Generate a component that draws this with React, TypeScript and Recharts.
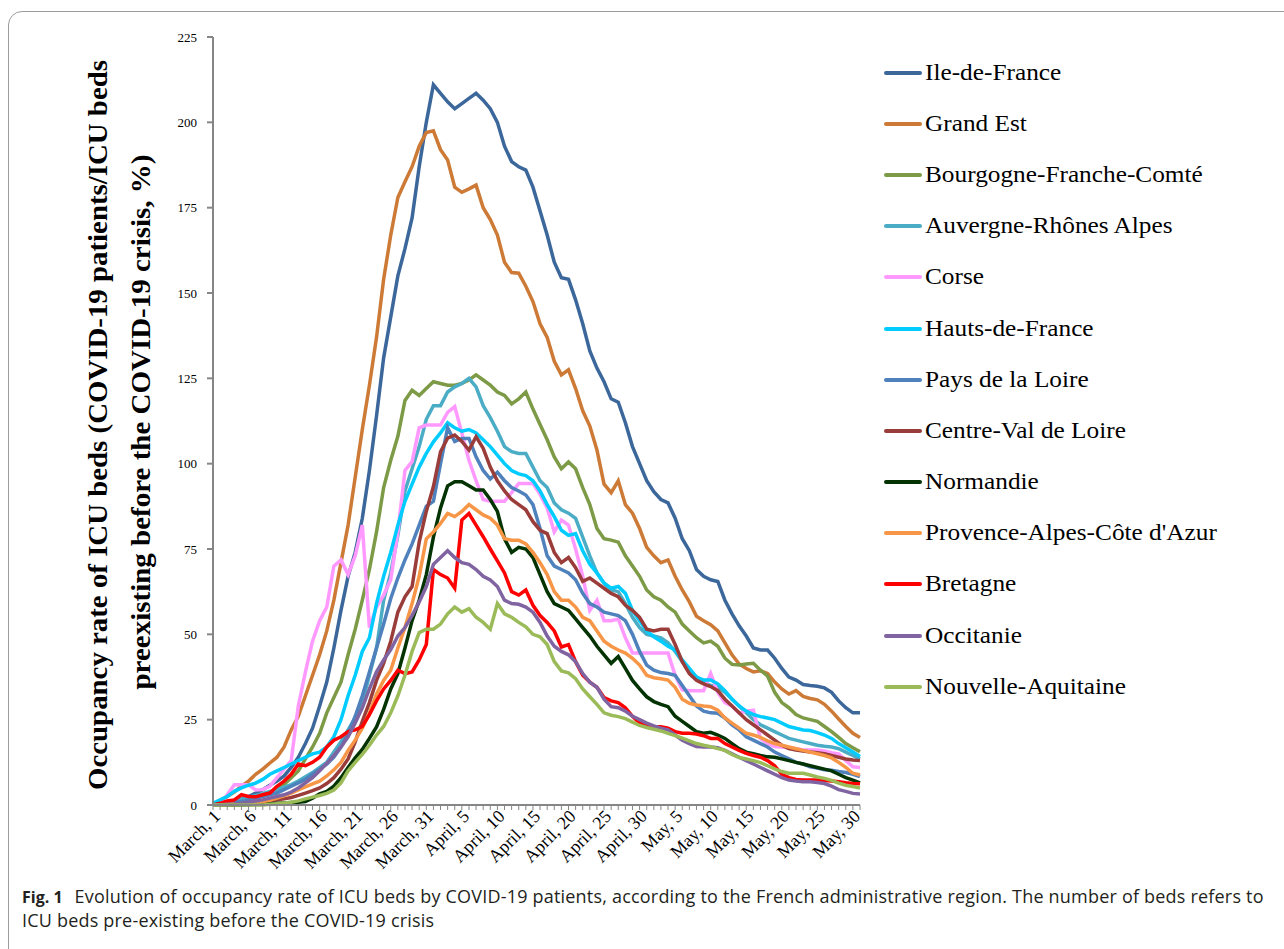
import { Legend, Line, LineChart, XAxis, YAxis } from "recharts";

const months = ["March", "April", "May"];
const monthDays = [31, 30, 31];
const dates = months.flatMap((m, k) =>
  Array.from({ length: monthDays[k] }, (_, d) => `${m}, ${d + 1}`)
);

const yTicks = [0, 25, 50, 75, 100, 125, 150, 175, 200, 225];

// occupancy rate (%) per day, March 1 -> May 31
const ileDeFrance = [
  0, 0.3, 0.8, 1.2, 1.8, 2.5, 3.5, 4.5, 5.8, 7,
  8.5, 11, 14, 18, 22.5, 29, 36, 46, 57, 67,
  74, 84, 98, 114, 131, 143, 155, 163, 172, 187,
  200, 211, 208.5, 206, 204, 205.5, 207, 208.5, 206.5, 204,
  200, 193, 188.5, 187, 186, 181, 174, 167, 159, 154.5,
  154, 148, 141, 133, 128, 124, 119, 118, 112, 105,
  100, 95, 91.8, 89.5, 88.5, 84, 78, 74.5, 69, 67,
  66, 65.5, 60, 56, 52.5, 49.5, 46, 45.4, 45.4, 43,
  40, 37.5, 36.6, 35.3, 35, 34.8, 34.3, 33, 30.5, 28.5,
  27, 27,
];
const grandEst = [
  0.3, 1.3, 2.5, 3.8, 5.5, 7, 9, 10.5, 12.3, 14,
  17, 22, 26, 32, 38, 44, 51, 60, 71, 82,
  96, 110, 123, 137, 154, 167, 178, 182.6, 187, 193,
  197, 197.5, 192, 189, 181, 179.5, 180.5, 181.6, 175, 171.5,
  167, 159, 156, 155.8, 152, 147.5, 141, 137, 130, 126,
  127.5, 122, 115.5, 111, 104, 94, 91.5, 95, 88, 85.5,
  81, 75.5, 73, 71, 71.8, 67, 63, 59.5, 55.3, 54,
  52.8, 51, 47.5, 44, 41.3, 40, 39, 39.3, 38.5, 36,
  34, 32.5, 33.5, 31.8, 31.2, 30.8, 29.5, 27.5, 25.2, 23,
  21, 19.8,
];
const bourgogne = [
  0, 0.2, 0.5, 1, 1.5, 2, 2.5, 3, 3.5, 4.5,
  6, 8, 10, 13.5, 17, 21, 27, 31.5, 36, 44,
  51.5, 60, 69, 80, 93, 101, 108, 118.5, 121.5, 120,
  122, 124, 123.5, 123, 123, 123.5, 124.5, 126, 124.5, 123,
  121, 120, 117.5, 119, 121, 116, 111.5, 107, 102, 98.5,
  100.5, 98.5, 93, 88, 81, 78, 77.6, 77, 73, 70,
  67, 63, 61, 60, 58, 56.5, 53, 51, 49, 47.5,
  48, 46.5, 43, 41.2, 41, 41.3, 41.5, 39.5, 37.8, 33,
  30, 28.5, 26.5, 25.5, 25, 24.5, 23, 21.5, 19.8, 18,
  16.8, 15.6,
];
const auvergne = [
  0, 0.4, 0.8, 1.2, 1.7, 2.2, 2.8, 3.3, 4, 4.5,
  5.2, 6, 7, 8.3, 9.5, 11, 12.5, 15.5, 18.5, 22,
  25.5, 30, 38, 46, 60, 68, 79, 92, 98.5, 105,
  113, 117, 117, 121, 122.5, 123.5, 125, 122.5, 117, 113.5,
  109.5, 105, 103.5, 103, 103, 99, 95, 93, 88.5, 86.5,
  85.5, 84, 78.5, 73, 68, 65, 63, 62.5, 59, 55,
  52, 50, 49.5, 49, 47.5, 45, 42, 39.5, 37.5, 36,
  35, 34.5, 33, 31, 29, 27, 25, 23.5, 22.5, 21.5,
  20.5, 19.5, 19, 18.5, 18, 17.5, 17.2, 17, 16.5, 15.5,
  14.5, 13.5,
];
const corse = [
  0, 0.5, 3, 5.9, 5.9, 5.9, 4.4, 4.5, 5.5, 8,
  10.5, 13, 29, 39, 48, 54, 58, 70, 71.8, 67.5,
  73, 82, 52, 58, 61.5, 66, 80, 98, 100.6, 110.5,
  111.3, 111.3, 111.3, 115, 116.7, 109, 101, 95, 89.5, 89,
  89, 89, 91.5, 94.2, 94.2, 94.2, 91, 87, 80, 83.5,
  82, 75, 67, 57, 60, 54, 54, 54.5, 49, 44.5,
  44.5, 44.5, 44.5, 44.5, 44.5, 38, 33.7, 33.5, 33.5, 33.5,
  38.5, 33, 30, 29, 26.9, 27.5, 27.8, 19.5, 18, 17.1,
  17, 16.8, 16.5, 16.1, 16.1, 16.1, 15.8, 15.3, 15, 13,
  11.2, 11,
];
const hautsDeFrance = [
  0.5, 1.5, 2.5, 4, 5, 5.8, 6.4, 7.5, 9, 10,
  11, 12, 13, 14, 15, 15.5, 17, 20, 25, 32,
  38, 45, 49, 59, 67, 74, 82, 89, 94, 99,
  103, 106.4, 109, 112, 110.5, 109.5, 110, 109, 107, 105,
  102.5, 100, 98, 97, 96.5, 95, 92, 88, 84.5, 80.5,
  79, 79.5, 74.5, 70.5, 68, 65, 63.5, 64, 62, 57,
  54, 51, 49.3, 48, 46.5, 45.4, 42.5, 40, 37.5, 36.6,
  36.6, 35.5, 33.5, 31, 29, 27.5, 26.5, 25.9, 25.5, 25,
  24, 23, 22.5, 22, 21.8, 21.2, 20.5, 19.5, 18, 16.8,
  15.5, 14.2,
];
const paysDeLaLoire = [
  0, 0.2, 0.5, 0.8, 1, 1.5, 2, 2.5, 3, 3.5,
  4.5, 5.5, 6.5, 7.5, 9, 10.5, 12, 14, 17, 21,
  26, 32, 39, 46, 53, 60.5, 66.5, 71.8, 76.5, 82,
  87.5, 89, 100, 110.5, 106.5, 107.4, 107.4, 102, 98, 95.5,
  97.5, 95, 93, 92, 90.8, 88, 81, 73, 70, 69,
  68, 66, 62, 59, 58, 56.5, 56, 55.5, 54, 50,
  45, 41, 39.5, 38.8, 38.5, 38, 35, 32, 29, 27.5,
  27, 26.9, 25.5, 23.5, 22, 20, 19, 18, 17, 15.5,
  14.5, 13.5, 12.5, 12, 11.2, 10.8, 10.3, 10.2, 9.8, 9.5,
  9, 8.3,
];
const centreVal = [
  0, 0.1, 0.2, 0.3, 0.4, 0.6, 0.8, 1, 1.2, 1.5,
  1.8, 2.2, 2.8, 3.5, 4.2, 5, 6.3, 8, 10.5, 13.5,
  18.5, 24.5, 30, 36.5, 41.5, 48, 56.5, 61, 64, 77,
  86, 93.3, 103.5, 107.5, 108.4, 106.5, 104, 107.9, 104.5, 99,
  95, 92, 89.5, 88, 86.5, 83, 80.5, 79.5, 74, 71,
  72.5, 69.5, 65.5, 66.5, 65, 63.5, 62, 61, 58.5, 57,
  55, 51.5, 51, 51.5, 51.5, 47, 42, 38.5, 36.5, 35.5,
  34.7, 33.5, 31, 29, 27, 25, 23.5, 22, 20.5, 19,
  17.5, 16.5, 16.1, 15.8, 15.5, 15.3, 15, 14.5, 14, 13.5,
  13.2, 13,
];
const normandie = [
  0, 0, 0, 0, 0, 0.1, 0.2, 0.3, 0.4, 0.5,
  0.6, 0.7, 0.8, 1, 2, 3.3, 4, 5.5, 8, 11,
  13.8, 16.3, 19.5, 22.9, 28, 34, 38.5, 46, 54, 60,
  67.5, 78.5, 87, 93.5, 94.7, 94.7, 93.5, 92.3, 92.3, 89.5,
  86, 78, 74, 75.5, 75, 72.5, 67.5, 62.5, 59, 58,
  57, 54.5, 52, 49.5, 46.5, 44, 41.5, 43.5, 40, 36.5,
  34, 31.7, 30.3, 29.5, 28.8, 26, 24.5, 23, 21.5, 21,
  21.3, 20.5, 19.5, 18, 16.5, 15.5, 15, 14.5, 14.1, 14,
  13.5, 13, 12.5, 12, 11.5, 11, 10.5, 10, 9, 8,
  7.3, 6.5,
];
const paca = [
  0, 0.1, 0.2, 0.3, 0.4, 0.5, 0.7, 1, 1.4, 2,
  2.7, 3.5, 4.4, 5.3, 6.2, 7, 8.5, 10.3, 12.5, 16,
  19, 22.5, 27, 32.5, 36.5, 39.5, 46, 52, 59, 67,
  78, 80, 82.5, 85.4, 84.5, 86, 88, 86.5, 85, 84,
  82, 78, 77.6, 77.6, 76.5, 74, 71, 67.5, 62.5, 60,
  60, 58, 55, 54, 51, 48, 46.5, 45.4, 44.5, 43,
  41, 38, 37.3, 37, 36.6, 34.5, 31, 29.8, 29.3, 29,
  28.8, 27.8, 25.5, 24, 22.5, 21, 20.5, 19.8, 18.8, 18,
  17.5, 17, 16.5, 16, 15.5, 15, 14.5, 13.8, 12.5, 11,
  9.3, 8.8,
];
const bretagne = [
  0, 0.5, 1.2, 1.5, 3, 2.5, 2.4, 3, 3.5, 5.5,
  7, 9, 12, 11.5, 12.5, 14, 17, 19, 20, 21.5,
  22, 23, 26.5, 30.5, 34, 36.5, 39.5, 38.5, 39, 42.5,
  47, 69, 67.5, 66.5, 63.5, 83.5, 85.4, 82, 78.6, 75,
  71.5, 68, 62.5, 61.5, 63, 58.5, 55.5, 53.5, 51, 46.3,
  47, 42, 38, 36, 34.5, 31.5, 30.5, 30, 28.5, 26,
  24, 23.5, 23, 22.9, 22.5, 21.5, 21, 21, 20.8, 20.3,
  19.5, 19.5, 18, 17, 16, 15.1, 14.5, 14, 13, 11.5,
  9, 8, 7.5, 7.3, 7.3, 7.3, 7.2, 7, 6.8, 6.5,
  6.3, 6.2,
];
const occitanie = [
  0, 0.1, 0.2, 0.3, 0.5, 0.8, 1.2, 1.5, 2, 2.5,
  3, 3.8, 5, 6.5, 8, 10, 12.2, 14.5, 17, 20,
  24, 28.5, 34, 39, 42.5, 45.5, 49.5, 52, 55.5, 59.5,
  64, 70.5, 72.5, 74.5, 72.5, 71, 70.5, 69, 67, 65.9,
  64, 60, 59, 58.8, 58, 56.5, 53.5, 49.5, 46.5, 45,
  44, 42, 38.5, 36, 34.5, 31, 28.8, 28.5, 27.5, 26,
  25, 24, 23.2, 22.5, 22, 20.5, 19, 18, 17.1, 17,
  17, 16.8, 16, 15, 14, 13, 12, 11, 10, 9,
  8, 7.3, 7, 6.8, 6.8, 6.6, 6.3, 5.5, 4.5, 4,
  3.4, 3.2,
];
const nouvelleAquitaine = [
  0, 0, 0, 0, 0, 0, 0, 0, 0.2, 0.4,
  0.6, 0.8, 1.2, 1.8, 2.3, 2.8, 3.4, 4.4, 6.5, 10,
  12.5, 14.8, 17.5, 20.5, 23, 27, 32, 38, 45, 50.5,
  51.5, 51.5, 53, 56, 58, 56.5, 57.5, 55, 53.5, 51.5,
  59, 56, 55, 53.5, 52.2, 50, 49.3, 47, 42, 39.3,
  38.7, 37, 34, 31.7, 29.5, 27, 26.3, 25.9, 25.3, 24.3,
  23.3, 22.7, 22.2, 21.7, 21, 20.3, 19.6, 18.8, 18, 17.5,
  17.1, 16.5, 16, 14.8, 13.9, 13.5, 13, 12.4, 11.5, 10.6,
  9.8, 9.3, 9.3, 9.3, 8.8, 8.2, 7.8, 7.2, 6.4, 5.8,
  5.4, 5,
];

const regions = [
  { name: "Ile-de-France", color: "#3b679b", values: ileDeFrance },
  { name: "Grand Est", color: "#cc7a36", values: grandEst },
  { name: "Bourgogne-Franche-Comté", color: "#7d9a46", values: bourgogne },
  { name: "Auvergne-Rhônes Alpes", color: "#4bacc6", values: auvergne },
  { name: "Corse", color: "#ff99ff", values: corse },
  { name: "Hauts-de-France", color: "#00ccff", values: hautsDeFrance },
  { name: "Pays de la Loire", color: "#4f81bd", values: paysDeLaLoire },
  { name: "Centre-Val de Loire", color: "#9a3d3a", values: centreVal },
  { name: "Normandie", color: "#033303", values: normandie },
  { name: "Provence-Alpes-Côte d'Azur", color: "#f79646", values: paca },
  { name: "Bretagne", color: "#ff0000", values: bretagne },
  { name: "Occitanie", color: "#8064a2", values: occitanie },
  { name: "Nouvelle-Aquitaine", color: "#9bbb59", values: nouvelleAquitaine },
];

const rows = dates.map((date, i) => {
  const row: Record<string, string | number> = { date };
  regions.forEach((r) => (row[r.name] = r.values[i]));
  return row;
});

const serif = "'Liberation Serif', 'Times New Roman', serif";
const axisGray = "#868686";

function DateTick(props: any) {
  const { x, y, payload, index } = props;
  if (index % 5 !== 0) return <g />;
  const ax = x + 4;
  const ay = y + 1;
  return (
    <text
      x={ax}
      y={ay}
      transform={`rotate(-45 ${ax} ${ay})`}
      textAnchor="end"
      dy="0.35em"
      fontFamily={serif}
      fontSize={18}
      fill="#000"
    >
      {payload.value}
    </text>
  );
}

function RegionLegend() {
  return (
    <div style={{ fontFamily: serif, fontSize: 23, color: "#000" }}>
      {regions.map((r) => (
        <div
          key={r.name}
          style={{ display: "flex", alignItems: "center", height: 51.2 }}
        >
          <span
            style={{
              display: "inline-block",
              width: 38,
              height: 4,
              borderRadius: 2,
              background: r.color,
              marginRight: 3,
              flex: "none",
            }}
          />
          <span
            style={{
              display: "inline-block",
              whiteSpace: "nowrap",
              transform: "scaleX(1.1)",
              transformOrigin: "left center",
            }}
          >
            {r.name}
          </span>
        </div>
      ))}
    </div>
  );
}

export default function App() {
  return (
    <div
      style={{
        position: "relative",
        width: 1284,
        height: 949,
        overflow: "hidden",
        background: "#fff",
      }}
    >
      <style>{"body{margin:0;background:#fff}"}</style>
      <div
        style={{
          position: "absolute",
          left: 8,
          top: 11,
          width: 1320,
          height: 980,
          border: "1px solid #9c9c9c",
          borderRadius: 14,
        }}
      />
      <div style={{ position: "absolute", left: 0, top: 0 }}>
        <LineChart
          width={1284}
          height={880}
          data={rows}
          margin={{ top: 37, right: 424, bottom: 15, left: 153 }}
        >
          <XAxis
            dataKey="date"
            interval={0}
            tick={<DateTick />}
            tickSize={5}
            height={60}
            axisLine={{ stroke: axisGray, strokeWidth: 2 }}
            tickLine={{ stroke: axisGray }}
          />
          <YAxis
            domain={[0, 225]}
            ticks={yTicks}
            width={60}
            tickSize={6}
            tickMargin={10}
            axisLine={{ stroke: axisGray, strokeWidth: 2 }}
            tickLine={{ stroke: axisGray, strokeWidth: 2 }}
            tick={{ fontFamily: serif, fontSize: 13, fill: "#000" }}
          />
          {regions.map((r) => (
            <Line
              key={r.name}
              type="linear"
              dataKey={r.name}
              stroke={r.color}
              strokeWidth={3.5}
              dot={false}
              activeDot={false}
              isAnimationActive={false}
            />
          ))}
          <Legend
            layout="vertical"
            align="center"
            verticalAlign="middle"
            content={<RegionLegend />}
            wrapperStyle={{ left: 884, top: 47, width: 400, height: 670 }}
          />
        </LineChart>
      </div>
      <svg
        width={200}
        height={880}
        style={{ position: "absolute", left: 0, top: 0 }}
      >
        <text
          x={98}
          y={425}
          transform="rotate(-90 98 425)"
          textAnchor="middle"
          dominantBaseline="central"
          fontFamily={serif}
          fontWeight="bold"
          fontSize={27}
          textLength={730}
          lengthAdjust="spacingAndGlyphs"
        >
          Occupancy rate of ICU beds (COVID-19 patients/ICU beds
        </text>
        <text
          x={141}
          y={422}
          transform="rotate(-90 141 422)"
          textAnchor="middle"
          dominantBaseline="central"
          fontFamily={serif}
          fontWeight="bold"
          fontSize={27}
          textLength={535}
          lengthAdjust="spacingAndGlyphs"
        >
          preexisting before the COVID-19 crisis, %)
        </text>
      </svg>
      <div
        style={{
          position: "absolute",
          left: 22,
          top: 885,
          fontFamily: "'Open Sans', sans-serif",
          fontSize: 18,
          letterSpacing: 0.2,
          lineHeight: "23px",
          color: "#231f20",
          whiteSpace: "nowrap",
        }}
      >
        <b style={{ fontSize: 16, letterSpacing: 0 }}>Fig. 1</b>
        <span style={{ marginLeft: 12 }}>
          Evolution of occupancy rate of ICU beds by COVID-19 patients,
          according to the French administrative region. The number of beds
          refers to
        </span>
        <br />
        ICU beds pre-existing before the COVID-19 crisis
      </div>
    </div>
  );
}
